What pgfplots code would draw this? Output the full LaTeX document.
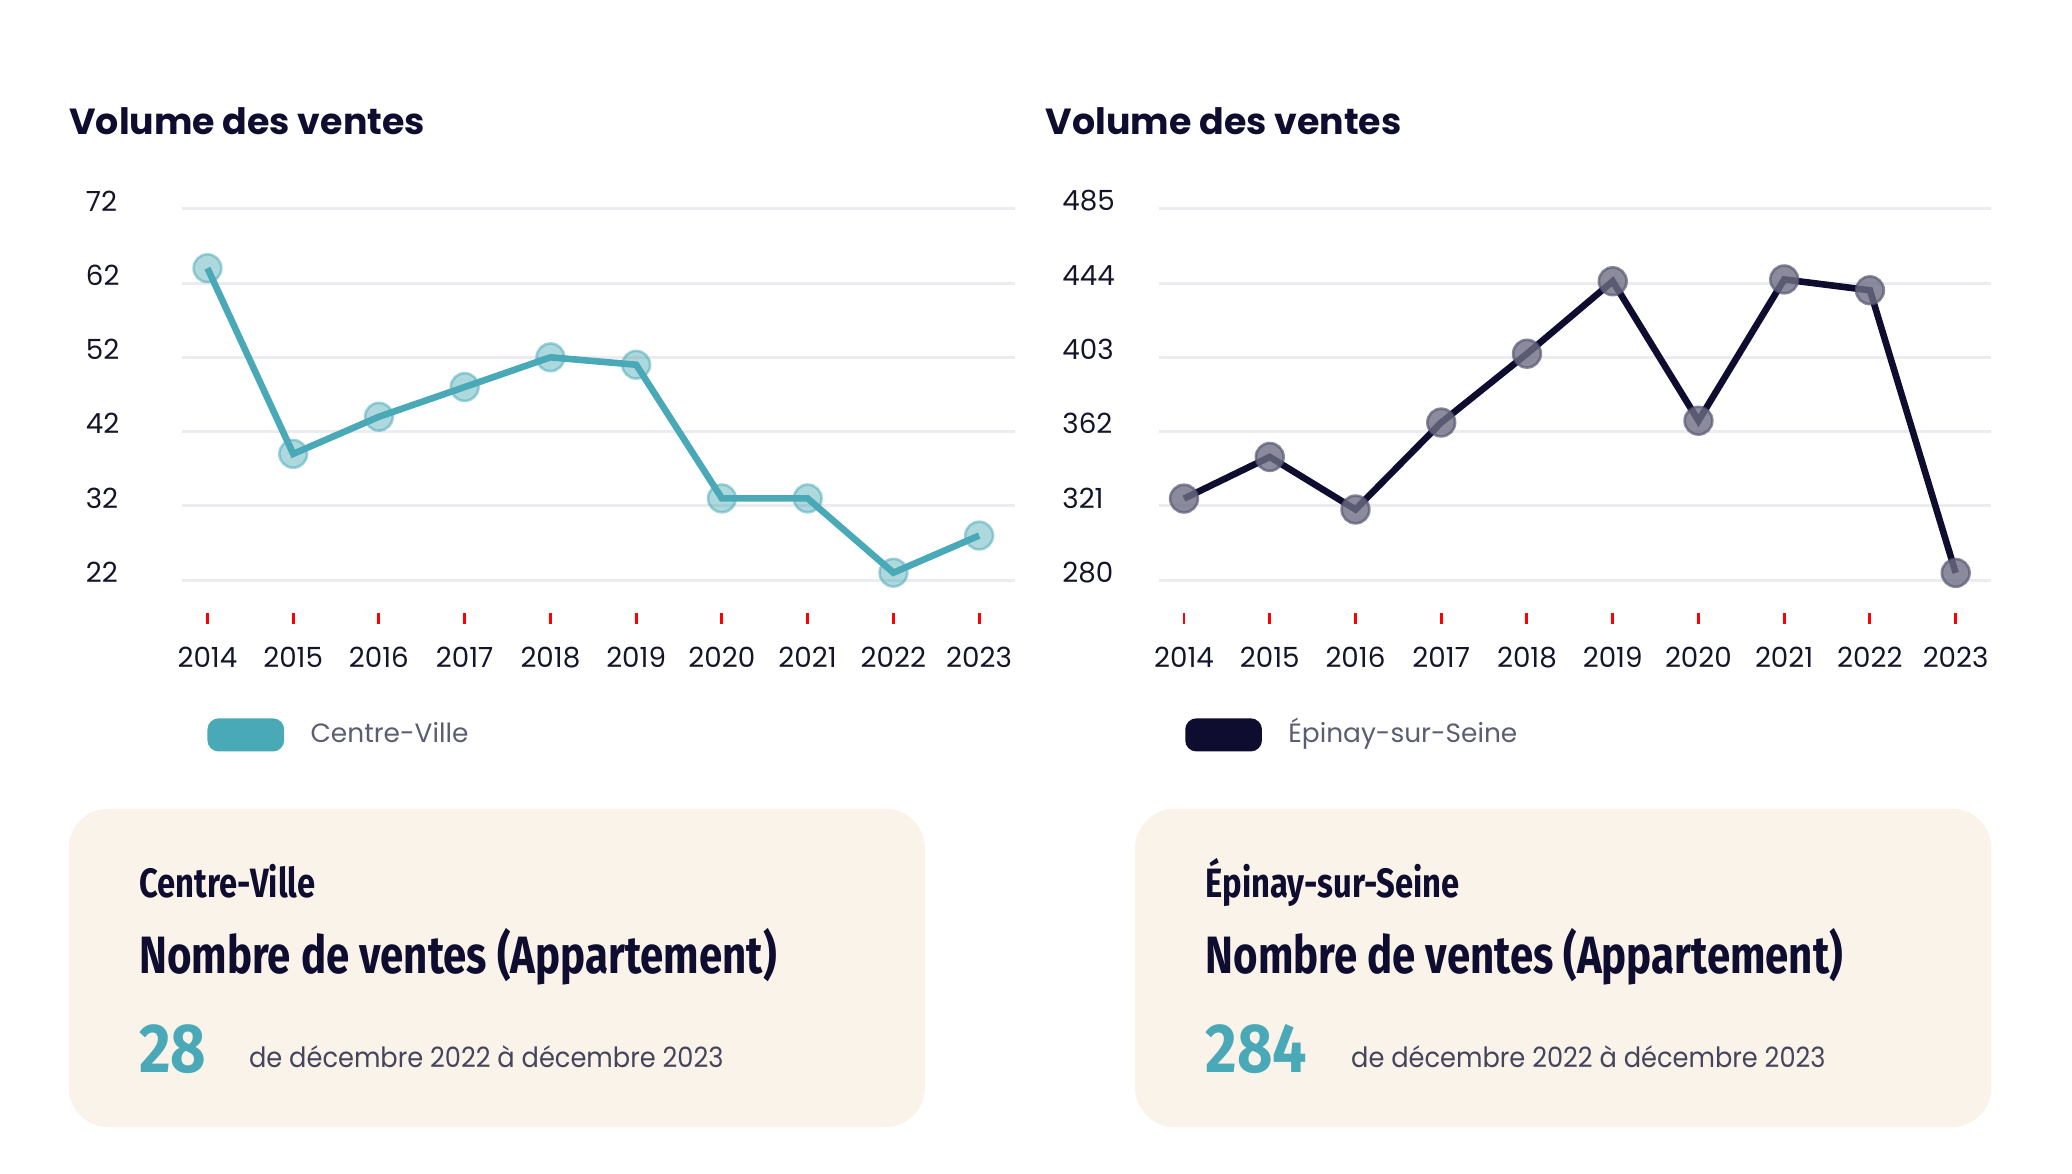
\documentclass[border=0pt]{standalone}
\usepackage{fontspec}
\setmainfont{Poppins}
\newfontfamily\cond[FakeStretch=0.8]{Fira Sans}
\newfontfamily\condnum[FakeStretch=0.88]{Fira Sans}
\newfontfamily\popn[FakeStretch=0.92]{Poppins}
\usepackage{pgfplots}
\pgfplotsset{compat=1.18}
\definecolor{teal1}{HTML}{4AA9B6}
\definecolor{navy}{HTML}{0E0C2F}
\definecolor{gridc}{HTML}{EBEBF0}
\definecolor{cream}{HTML}{FAF3EA}
\definecolor{subgray}{HTML}{44445C}
\definecolor{leggray}{HTML}{5C5C72}
\definecolor{ticktext}{HTML}{15152A}
\definecolor{darkmark}{HTML}{6E6E85}
\pgfplotsset{
  vv/.style={
    scale only axis, width=252pt, height=125.6pt,
    xmin=2013.7072, xmax=2023.416,
    axis x line*=bottom, axis y line*=left,
    axis line style={draw=none},
    xtick={2014,...,2023},
    /pgf/number format/1000 sep={},
    /pgf/number format/assume math mode=true,
    ymajorgrids, grid style={draw=gridc, line width=0.9pt},
    xtick style={draw=red, line width=0.9pt},
    ytick style={draw=none},
    major tick length=3.2pt, tick align=inside,
    ticklabel style={font=\fontsize{8.4}{10}\selectfont, text=ticktext},
    xticklabel style={yshift=-3.6pt},
    yticklabel style={anchor=west, inner sep=0pt, xshift=-29.4pt, yshift=2.4pt},
    clip=false,
    legend style={draw=none, fill=none, inner sep=0pt, outer sep=0pt, anchor=west,
       font=\fontsize{8}{10}\selectfont, text=leggray,
       nodes={inner sep=0pt, text height=6pt, text depth=1.6pt}},
    legend image code/.code={
      \fill[#1, rounded corners=2.4pt] (0pt,-4pt) rectangle (21.2pt,4pt);
      \path[draw=none, fill=none] (0pt,-4pt) rectangle (30.2pt,4pt);},
  }
}
\begin{document}
\begin{tikzpicture}
\path (0pt,0pt) rectangle (627.2pt,-355.2pt);
% titles
\node[anchor=base west, inner sep=0pt, text=navy, font=\bfseries\fontsize{11}{13}\selectfont] at (20.8pt,-40.8pt) {Volume des ventes};
\node[anchor=base west, inner sep=0pt, text=navy, font=\bfseries\fontsize{11}{13}\selectfont] at (316.4pt,-40.8pt) {Volume des ventes};

\begin{axis}[vv, at={(55.2pt,-63.2pt)}, anchor=north west,
  ymin=16.13, ymax=72, ytick={22,32,...,72},
  legend style={at={(0.0302,-0.268)}}]
\addplot[only marks, mark=*, mark size=4.2pt, mark options={fill=teal1, fill opacity=0.45, draw=teal1, draw opacity=0.5, line width=0.8pt}, forget plot] coordinates {
(2014,64) (2015,39) (2016,44) (2017,48) (2018,52) (2019,51) (2020,33) (2021,33) (2022,23) (2023,28)};
\addplot[teal1, line width=2pt, mark=none] coordinates {
(2014,64) (2015,39) (2016,44) (2017,48) (2018,52) (2019,51) (2020,33) (2021,33) (2022,23) (2023,28)};
\legend{Centre-Ville}
\end{axis}

\begin{axis}[vv, at={(350.8pt,-63.2pt)}, anchor=north west,
  ymin=255.94, ymax=485, ytick={280,321,362,403,444,485},
  legend style={at={(0.0317,-0.268)}}]
\addplot[only marks, mark=*, mark size=4.2pt, mark options={fill=darkmark, fill opacity=0.8, draw=darkmark!80!navy, draw opacity=0.7, line width=0.8pt}, forget plot] coordinates {
(2014,325) (2015,348) (2016,319) (2017,367) (2018,405) (2019,445) (2020,368) (2021,446) (2022,440) (2023,284)};
\addplot[navy, line width=2pt, mark=none] coordinates {
(2014,325) (2015,348) (2016,319) (2017,367) (2018,405) (2019,445) (2020,368) (2021,446) (2022,440) (2023,284)};
\legend{Épinay-sur-Seine}
\end{axis}

% summary boxes
\fill[cream, rounded corners=12pt] (20.8pt,-244.8pt) rectangle (280pt,-341.2pt);
\fill[cream, rounded corners=12pt] (343.6pt,-244.8pt) rectangle (602.8pt,-341.2pt);

\node[anchor=base west, inner sep=0pt, text=navy, font=\cond\bfseries\fontsize{12.4}{14}\selectfont] at (42pt,-271.6pt) {Centre-Ville};
\node[anchor=base west, inner sep=0pt, text=navy, font=\cond\bfseries\fontsize{15.9}{18}\selectfont] at (42pt,-294.8pt) {Nombre de ventes (Appartement)};
\node[anchor=base west, inner sep=0pt, text=teal1, font=\condnum\bfseries\fontsize{21}{24}\selectfont] at (42pt,-324.8pt) {28};
\node[anchor=base west, inner sep=0pt, text=subgray, font=\popn\fontsize{8.45}{10}\selectfont] at (75.2pt,-323.2pt) {de décembre 2022 à décembre 2023};

\node[anchor=base west, inner sep=0pt, text=navy, font=\cond\bfseries\fontsize{12.4}{14}\selectfont] at (364.8pt,-271.6pt) {Épinay-sur-Seine};
\node[anchor=base west, inner sep=0pt, text=navy, font=\cond\bfseries\fontsize{15.9}{18}\selectfont] at (364.8pt,-294.8pt) {Nombre de ventes (Appartement)};
\node[anchor=base west, inner sep=0pt, text=teal1, font=\condnum\bfseries\fontsize{21}{24}\selectfont] at (364.8pt,-324.8pt) {284};
\node[anchor=base west, inner sep=0pt, text=subgray, font=\popn\fontsize{8.45}{10}\selectfont] at (408.8pt,-323.2pt) {de décembre 2022 à décembre 2023};
\end{tikzpicture}
\end{document}
